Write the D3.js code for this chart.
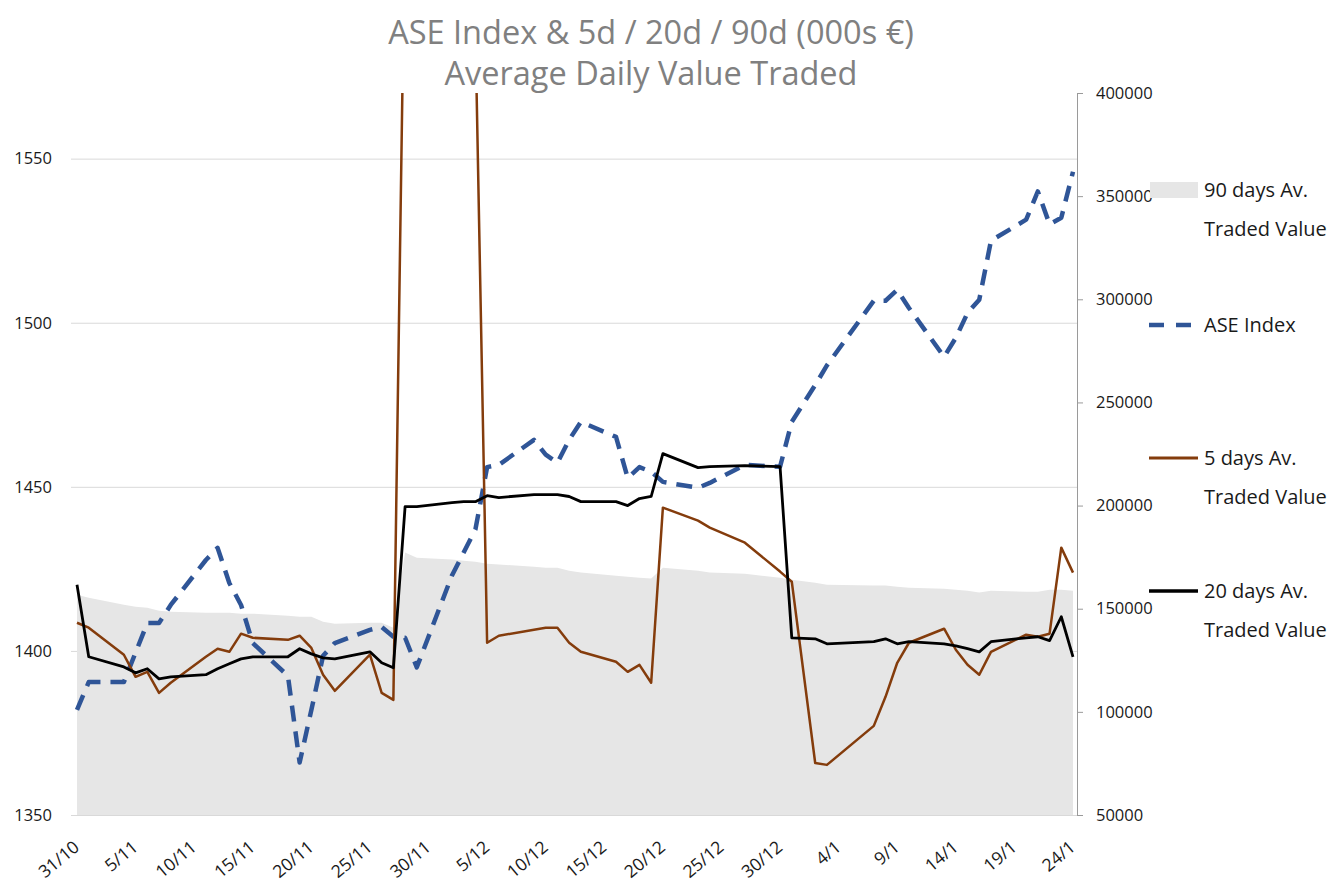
<!DOCTYPE html>
<html>
<head>
<meta charset="utf-8">
<script src="https://cdn.jsdelivr.net/npm/d3@7"></script>
<style>
  html, body { margin: 0; padding: 0; background: #fff; }
  svg text { font-family: "Open Sans", "DejaVu Sans", sans-serif; }
</style>
</head>
<body>
<svg id="chart" width="1332" height="882"></svg>
<script>
// ---------------- DATA ----------------
const dates = ["2024-10-31","2024-11-01","2024-11-04","2024-11-05","2024-11-06","2024-11-07","2024-11-08",
"2024-11-11","2024-11-12","2024-11-13","2024-11-14","2024-11-15","2024-11-18","2024-11-19","2024-11-20",
"2024-11-21","2024-11-22","2024-11-25","2024-11-26","2024-11-27","2024-11-28","2024-11-29","2024-12-02",
"2024-12-03","2024-12-04","2024-12-05","2024-12-06","2024-12-09","2024-12-10","2024-12-11","2024-12-12",
"2024-12-13","2024-12-16","2024-12-17","2024-12-18","2024-12-19","2024-12-20","2024-12-23","2024-12-24",
"2024-12-27","2024-12-30","2024-12-31","2025-01-02","2025-01-03","2025-01-07","2025-01-08","2025-01-09",
"2025-01-10","2025-01-13","2025-01-14","2025-01-15","2025-01-16","2025-01-17","2025-01-20","2025-01-21",
"2025-01-22","2025-01-23","2025-01-24"];

const aseIndex = [1382.0,1390.5,1390.5,1399.5,1408.5,1408.5,1414.0,1427.7,1431.4,1420.7,1414.0,1402.4,1392.4,
1366.0,1382.0,1398.5,1402.4,1406.4,1407.3,1404.3,1404.0,1395.0,1423.0,1430.0,1437.0,1456.0,1456.7,1464.3,
1459.8,1457.3,1464.3,1469.8,1465.2,1452.7,1456.0,1454.6,1451.5,1449.7,1451.2,1456.7,1456.1,1469.8,1481.0,
1487.0,1506.7,1506.7,1510.0,1504.5,1489.6,1495.4,1503.0,1507.0,1525.0,1531.4,1540.0,1530.0,1532.0,1546.0];

const avg5d = [143200,140800,127700,117000,119400,109200,114100,126700,130600,129100,137900,135900,134900,
136900,131000,118000,110200,127700,109200,105800,490000,495000,500000,500000,431000,133500,136900,139800,
140800,140800,133500,129100,124300,119400,122800,114100,199000,192700,189300,182000,168000,163100,75200,
74300,93200,107300,123800,133500,140300,130100,122800,118000,129100,137400,136400,137900,179600,167500];

const avg20d = [161600,126700,121800,118900,120900,116000,117000,118000,120900,123300,125700,126700,126700,
130600,128100,126200,125700,129100,123800,121400,199500,199500,201400,201900,201900,204800,203900,205300,
205300,205300,204400,201900,201900,200000,203400,204400,225200,218400,218900,219400,218900,135900,135400,
133000,134000,135400,133000,134000,133000,132000,130600,129100,134000,135900,136400,134500,146100,126700];

const avg90d = [156800,155300,151900,151000,150500,149000,148500,148100,148100,148100,147600,147600,146600,
146100,146100,143700,142700,143200,143200,140800,177200,174700,173800,173300,172800,171800,171400,170400,
169900,169900,168400,167500,166000,165500,165000,164600,169900,168400,167500,167000,165000,164100,162600,
161600,161200,161200,160700,160200,159700,159200,158700,157800,158700,158200,158200,159200,159200,158700];

const xTickLabels = ["31/10","5/11","10/11","15/11","20/11","25/11","30/11","5/12","10/12","15/12","20/12",
"25/12","30/12","4/1","9/1","14/1","19/1","24/1"];
const leftTicks = [1350,1400,1450,1500,1550];
const rightTicks = [50000,100000,150000,200000,250000,300000,350000,400000];

const titleLines = ["ASE Index & 5d / 20d / 90d (000s €)", "Average Daily Value Traded"];
const legendItems = [
  {key:"v90", lines:["90 days Av.","Traded Value"]},
  {key:"ase", lines:["ASE Index"]},
  {key:"v5",  lines:["5 days Av.","Traded Value"]},
  {key:"v20", lines:["20 days Av.","Traded Value"]}
];

// ---------------- CHART ----------------
const parse = d3.timeParse("%Y-%m-%d");
const rows = dates.map((d,i)=>({date:parse(d), ase:aseIndex[i], v5:avg5d[i], v20:avg20d[i], v90:avg90d[i]}));
const tickDates = xTickLabels.map(s=>{
  const [dd,mm] = s.split("/").map(Number);
  return new Date(mm >= 10 ? 2024 : 2025, mm-1, dd);
});

const svg = d3.select("#chart");
const plot = {left:77, right:1073, top:93, bottom:815};

const x = d3.scaleTime().domain([rows[0].date, rows[rows.length-1].date]).range([plot.left, plot.right]);
const yL = d3.scaleLinear().domain([1350,1570]).range([plot.bottom, plot.top]);
const yR = d3.scaleLinear().domain([50000,400000]).range([plot.bottom, plot.top]);

svg.append("defs").append("clipPath").attr("id","clip")
  .append("rect").attr("x",plot.left-3).attr("y",plot.top).attr("width",plot.right-plot.left+6).attr("height",plot.bottom-plot.top);

// Title
svg.append("g").selectAll("text").data(titleLines).join("text")
  .attr("x",651).attr("y",(d,i)=>44+i*41)
  .attr("text-anchor","middle").attr("fill","#808080").attr("font-size",32.5)
  .text(d=>d);

// Gridlines
svg.append("g").selectAll("line").data(leftTicks).join("line")
  .attr("x1",71).attr("x2",1077).attr("y1",d=>yL(d)+0.5).attr("y2",d=>yL(d)+0.5)
  .attr("stroke","#d9d9d9").attr("stroke-width",1);

// 90d area
const area = d3.area().x(d=>x(d.date)).y0(plot.bottom).y1(d=>yR(d.v90)).curve(d3.curveLinear);
svg.append("path").datum(rows).attr("d",area).attr("fill","#e6e6e6").attr("clip-path","url(#clip)");

const g = svg.append("g").attr("clip-path","url(#clip)");
// ASE index dashed
g.append("path").datum(rows)
  .attr("d", d3.line().x(d=>x(d.date)).y(d=>yL(d.ase)))
  .attr("fill","none").attr("stroke","#2f5597").attr("stroke-width",4.5)
  .attr("stroke-dasharray","16,10").attr("stroke-linejoin","round");
// 5d
g.append("path").datum(rows)
  .attr("d", d3.line().x(d=>x(d.date)).y(d=>yR(d.v5)))
  .attr("fill","none").attr("stroke","#843c0c").attr("stroke-width",2.5).attr("stroke-linejoin","round");
// 20d
g.append("path").datum(rows)
  .attr("d", d3.line().x(d=>x(d.date)).y(d=>yR(d.v20)))
  .attr("fill","none").attr("stroke","#000").attr("stroke-width",2.8).attr("stroke-linejoin","round");

// Left axis
const axL = svg.append("g").attr("transform","translate(71,0)")
  .call(d3.axisLeft(yL).tickValues(leftTicks).tickSize(0).tickPadding(19).tickFormat(d3.format("d")));
axL.select(".domain").remove();
axL.selectAll("text").attr("font-size",16.5).attr("fill","#1a1a1a").attr("font-family",null);

// Right axis
const axR = svg.append("g").attr("transform","translate(1077,0)")
  .call(d3.axisRight(yR).tickValues(rightTicks).tickSize(6).tickSizeOuter(0).tickPadding(13).tickFormat(d3.format("d")));
axR.select(".domain").attr("stroke","#9a9a9a");
axR.selectAll(".tick line").attr("stroke","#9a9a9a");
axR.selectAll("text").attr("font-size",16.5).attr("fill","#1a1a1a").attr("font-family",null);

// Bottom axis
const axB = svg.append("g").attr("transform",`translate(0,${plot.bottom})`)
  .call(d3.axisBottom(x).tickValues(tickDates).tickSize(0).tickFormat((d,i)=>xTickLabels[i]));
axB.select(".domain").remove();
axB.selectAll("text")
  .attr("font-size",17.5).attr("fill","#1a1a1a").attr("font-family",null)
  .attr("text-anchor","end").attr("dy",null).attr("y",null)
  .attr("transform","translate(3,34) rotate(-40)");

// Legend
const legend = svg.append("g");
const legY = {v90:190, ase:325, v5:458, v20:591};
legendItems.forEach(it=>{
  const cy = legY[it.key];
  if (it.key==="v90") {
    legend.append("rect").attr("x",1150).attr("y",cy-8).attr("width",48).attr("height",16).attr("fill","#e6e6e6");
  } else if (it.key==="ase") {
    legend.append("line").attr("x1",1149).attr("x2",1191).attr("y1",cy).attr("y2",cy)
      .attr("stroke","#2f5597").attr("stroke-width",4.5).attr("stroke-dasharray","15,12");
  } else {
    legend.append("line").attr("x1",1149).attr("x2",1198).attr("y1",cy).attr("y2",cy)
      .attr("stroke", it.key==="v5" ? "#843c0c" : "#000").attr("stroke-width", it.key==="v5"?3:3.5);
  }
  it.lines.forEach((t,j)=>{
    legend.append("text").attr("x",1204).attr("y",cy+7+j*39)
      .attr("font-size",20).attr("fill","#1a1a1a").text(t);
  });
});
</script>
</body>
</html>
